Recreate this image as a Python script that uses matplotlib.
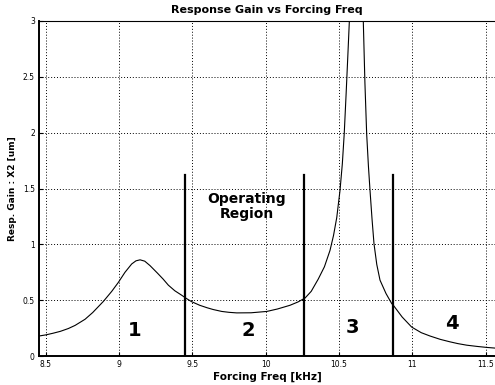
import matplotlib
matplotlib.use("Agg")
import matplotlib.pyplot as plt

# response curve (freq in kHz, gain in um)
freq = [8.454, 8.50, 8.55, 8.60, 8.654, 8.70, 8.768, 8.82, 8.893, 8.95, 8.995,
        9.04, 9.086, 9.115, 9.143, 9.175, 9.211, 9.26, 9.30, 9.336, 9.38,
        9.427, 9.46, 9.495, 9.55, 9.60, 9.642, 9.70, 9.75, 9.802, 9.90,
        10.007, 10.08, 10.165, 10.22, 10.268, 10.31, 10.358, 10.40, 10.438,
        10.462, 10.484, 10.506, 10.522, 10.535, 10.548, 10.56, 10.570, 10.60,
        10.618, 10.635, 10.665, 10.676, 10.688, 10.70, 10.711, 10.725, 10.738,
        10.757, 10.779, 10.82, 10.859, 10.870, 10.93, 10.995, 11.06, 11.12,
        11.19, 11.256, 11.31, 11.370, 11.44, 11.506, 11.563]
gain = [0.18, 0.19, 0.205, 0.222, 0.247, 0.275, 0.33, 0.39, 0.49, 0.58, 0.66,
        0.75, 0.825, 0.853, 0.862, 0.85, 0.81, 0.745, 0.69, 0.635, 0.585,
        0.545, 0.515, 0.487, 0.455, 0.433, 0.417, 0.40, 0.392, 0.387, 0.388,
        0.40, 0.422, 0.455, 0.485, 0.52, 0.58, 0.69, 0.80, 0.946,
        1.08, 1.24, 1.48, 1.72, 1.99, 2.35, 2.7, 3.0, 6.0,
        9.0, 6.0, 3.0, 2.45, 1.99, 1.70, 1.48, 1.22, 1.006,
        0.82, 0.68, 0.56, 0.47, 0.455, 0.35, 0.26, 0.21, 0.18,
        0.15, 0.128, 0.112, 0.098, 0.087, 0.078, 0.072]

region_bounds = [9.452, 10.263, 10.865]
bound_height = 1.62
region_labels = ["1", "2", "3", "4"]
region_label_x = [9.109, 9.879, 10.588, 11.27]
region_label_y = [0.232, 0.232, 0.259, 0.295]

xticks = [8.5, 9, 9.5, 10, 10.5, 11, 11.5]
xtick_labels = ["8.5", "9", "9.5", "10", "10.5", "11", "11.5"]
yticks = [0, 0.5, 1, 1.5, 2, 2.5, 3]
ytick_labels = ["0", "0.5", "1", "1.5", "2", "2.5", "3"]

fig = plt.figure(figsize=(4.95, 3.85), dpi=100)
ax = fig.add_axes([0.0788, 0.075, 0.9212, 0.8705])

ax.plot(freq, gain, color="black", lw=0.8)
for b in region_bounds:
    ax.plot([b, b], [0, bound_height], color="black", lw=1.6)

for lab, x, y in zip(region_labels, region_label_x, region_label_y):
    ax.text(x, y, lab, fontsize=14, fontweight="bold", ha="center", va="center")
ax.text(9.87, 1.34, "Operating\nRegion", fontsize=10, fontweight="bold",
        ha="center", va="center", linespacing=1.05)

ax.set_xlim(8.454, 11.563)
ax.set_ylim(0, 3)
ax.set_xticks(xticks)
ax.set_xticklabels(xtick_labels, fontsize=5.5)
ax.set_yticks(yticks)
ax.set_yticklabels(ytick_labels, fontsize=5.5)
ax.tick_params(direction="in", length=3, pad=3)
ax.grid(True, color="black", linestyle=(0, (1, 2)), lw=0.7)

for s in ["left", "bottom"]:
    ax.spines[s].set_linewidth(1.4)
ax.spines["top"].set_linewidth(0.8)
ax.spines["right"].set_visible(False)

ax.set_title("Response Gain vs Forcing Freq", fontsize=8, fontweight="bold", pad=6)
ax.set_xlabel("Forcing Freq [kHz]", fontsize=7.5, fontweight="bold", labelpad=2)
ax.set_ylabel("Resp. Gain : X2 [um]", fontsize=6.5, fontweight="bold", labelpad=4)

fig.savefig("out.png", dpi=100)
